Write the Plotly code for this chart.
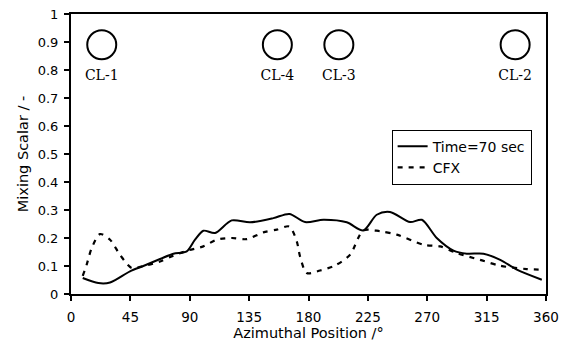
import plotly.graph_objects as go

# Time = 70 sec (solid)
t70_x = [8.9, 20.7, 29.6, 44.7, 54.8, 67.5, 77.6, 87.7, 94, 100.3, 109.2, 121.8, 135.7,
         153.4, 165.5, 177.4, 191.3, 209, 221.6, 231.7, 241.8, 257, 265.9, 277.2, 289.9,
         300, 312.6, 325.3, 337.9, 356.8]
t70_y = [0.057, 0.039, 0.041, 0.081, 0.10, 0.125, 0.144, 0.152, 0.194, 0.226, 0.218, 0.263,
         0.256, 0.271, 0.286, 0.257, 0.265, 0.256, 0.227, 0.283, 0.293, 0.257, 0.265, 0.20,
         0.155, 0.144, 0.144, 0.122, 0.087, 0.051]

# CFX (dashed)
cfx_x = [8.9, 11.9, 15.7, 22, 29.6, 37.1, 46, 54.8, 67.5, 77.6, 89, 100.3, 110.5, 121.8,
         133.2, 145.8, 156, 165.5, 171.1, 173.6, 178.7, 188.8, 200.2, 211.5, 221.6, 234.3,
         246.9, 267.1, 279.8, 292.4, 310, 325.3, 345.5, 356.8]
cfx_y = [0.065, 0.105, 0.164, 0.214, 0.194, 0.14, 0.093, 0.10, 0.116, 0.137, 0.156, 0.17,
         0.194, 0.20, 0.196, 0.22, 0.23, 0.241, 0.188, 0.134, 0.075, 0.084, 0.102, 0.14,
         0.227, 0.224, 0.212, 0.176, 0.17, 0.146, 0.122, 0.101, 0.089, 0.087]

# Cold-leg markers
cl_names = ["CL-1", "CL-4", "CL-3", "CL-2"]
cl_x = [23.3, 156.4, 203, 336.6]
cl_y = [0.89, 0.89, 0.89, 0.89]
cl_label_y = [0.776, 0.776, 0.776, 0.776]

x_ticks = [0, 45, 90, 135, 180, 225, 270, 315, 360]
y_ticks = [0, 0.1, 0.2, 0.3, 0.4, 0.5, 0.6, 0.7, 0.8, 0.9, 1]
y_tick_text = ["0", "0.1", "0.2", "0.3", "0.4", "0.5", "0.6", "0.7", "0.8", "0.9", "1"]

fig = go.Figure()
fig.add_trace(go.Scatter(x=t70_x, y=t70_y, mode="lines", name="Time=70 sec",
                         line=dict(color="black", width=2, shape="spline", smoothing=0.8)))
fig.add_trace(go.Scatter(x=cfx_x, y=cfx_y, mode="lines", name="CFX",
                         line=dict(color="black", width=2.2, dash="5px,6px", shape="spline", smoothing=0.8)))
fig.add_trace(go.Scatter(x=cl_x, y=cl_y, mode="markers", showlegend=False,
                         marker=dict(symbol="circle-open", size=29, color="black",
                                     line=dict(width=2, color="black"))))
fig.add_trace(go.Scatter(x=cl_x, y=cl_label_y, mode="text", text=cl_names, showlegend=False,
                         textfont=dict(family="DejaVu Serif, Liberation Serif, serif", size=14, color="black")))

sans = "DejaVu Sans, Verdana, sans-serif"
fig.update_layout(
    width=561, height=345,
    margin=dict(l=71, r=15, t=14, b=51),
    paper_bgcolor="white", plot_bgcolor="white",
    font=dict(family=sans, size=13, color="black"),
    xaxis=dict(range=[0, 360], tickvals=x_ticks, showgrid=False, zeroline=False,
               showline=True, linecolor="black", linewidth=2, mirror=True,
               ticks="outside", ticklen=5, tickwidth=1.5, tickcolor="black",
               ticklabelstandoff=5, automargin=False,
               title=dict(text="Azimuthal Position /°", standoff=0,
                          font=dict(family=sans, size=14.5, color="black")),
               tickfont=dict(family=sans, size=13.5, color="black")),
    yaxis=dict(range=[0, 1], tickvals=y_ticks, ticktext=y_tick_text, showgrid=False, zeroline=False,
               showline=True, linecolor="black", linewidth=2, mirror=True,
               ticks="outside", ticklen=5, tickwidth=1.5, tickcolor="black",
               ticklabelstandoff=3, automargin=False,
               title=dict(text="Mixing Scalar / -", standoff=6,
                          font=dict(family=sans, size=14.5, color="black")),
               tickfont=dict(family=sans, size=13, color="black")),
    legend=dict(x=0.675, y=0.587, xanchor="left", yanchor="top",
                bgcolor="white", bordercolor="black", borderwidth=1,
                font=dict(family=sans, size=14, color="black"),
                tracegroupgap=0, itemwidth=30),
)

fig.write_html("out.html")
